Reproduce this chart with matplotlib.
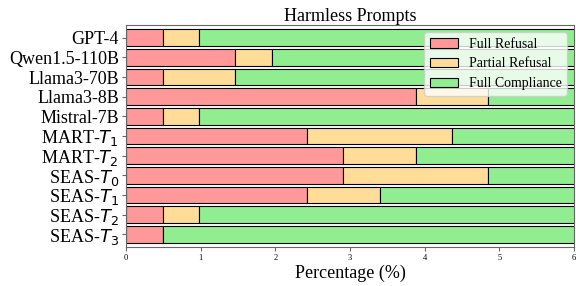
import numpy as np
import matplotlib.pyplot as plt

plt.rcParams['font.family'] = ['Liberation Serif', 'DejaVu Serif']
plt.rcParams['mathtext.fontset'] = 'dejavusans'
# --------------------------------------------------------------------------------/
models = ['GPT-4', 'Qwen1.5-110B', 'Llama3-70B', 'Llama3-8B', 'Mistral-7B',
          'MART-$T_1$', 'MART-$T_2$', 'SEAS-$T_0$', 'SEAS-$T_1$', 'SEAS-$T_2$', 'SEAS-$T_3$']
full_refusal    = [0.49, 1.46, 0.49, 3.88, 0.49, 2.43, 2.91, 2.91, 2.43, 0.49, 0.49]
partial_refusal = [0.49, 0.49, 0.97, 0.97, 0.49, 1.94, 0.97, 1.94, 0.97, 0.49, 0.00]
full_compliance = [100 - a - b for a, b in zip(full_refusal, partial_refusal)]
xticks = [0, 1, 2, 3, 4, 5, 6]
# --------------------------------------------------------------------------------/
fig = plt.figure(figsize=(5.76, 2.86), dpi=100)
axe = fig.add_axes([126/576, 1 - 247/286, 448/576, 222/286])

y = np.arange(len(models))
fr = np.array(full_refusal)
pr = np.array(partial_refusal)
fc = np.array(full_compliance)

axe.barh(y, fr, height=0.85, color='#ff9999', edgecolor='black', linewidth=0.8, label='Full Refusal')
axe.barh(y, pr, left=fr, height=0.85, color='#ffdd99', edgecolor='black', linewidth=0.8, label='Partial Refusal')
axe.barh(y, fc, left=fr + pr, height=0.85, color='#90ee90', edgecolor='black', linewidth=0.8, label='Full Compliance')

axe.set_xlim(0, 6)
axe.set_ylim(len(models) - 0.5 + 0.15, -0.5 - 0.15)
axe.set_yticks(y)
axe.set_yticklabels(models, fontsize=13)
axe.set_xticks(xticks)
axe.set_xticklabels([str(t) for t in xticks], fontsize=6)
axe.set_xlabel('Percentage (%)', fontsize=13, labelpad=2)
axe.set_title('Harmless Prompts', fontsize=13, pad=3)
for s in axe.spines.values():
    s.set_color('#666666')
axe.tick_params(axis='both', color='#666666', length=3, pad=2)

axe.legend(loc='upper right', fontsize=10, framealpha=0.8, handlelength=2.0,
           borderpad=0.4, labelspacing=0.5)

fig.savefig('out.png', dpi=100)
# --------------------------------------------------------------------------------/
# eof
# --------------------------------------------------------------------------------/
